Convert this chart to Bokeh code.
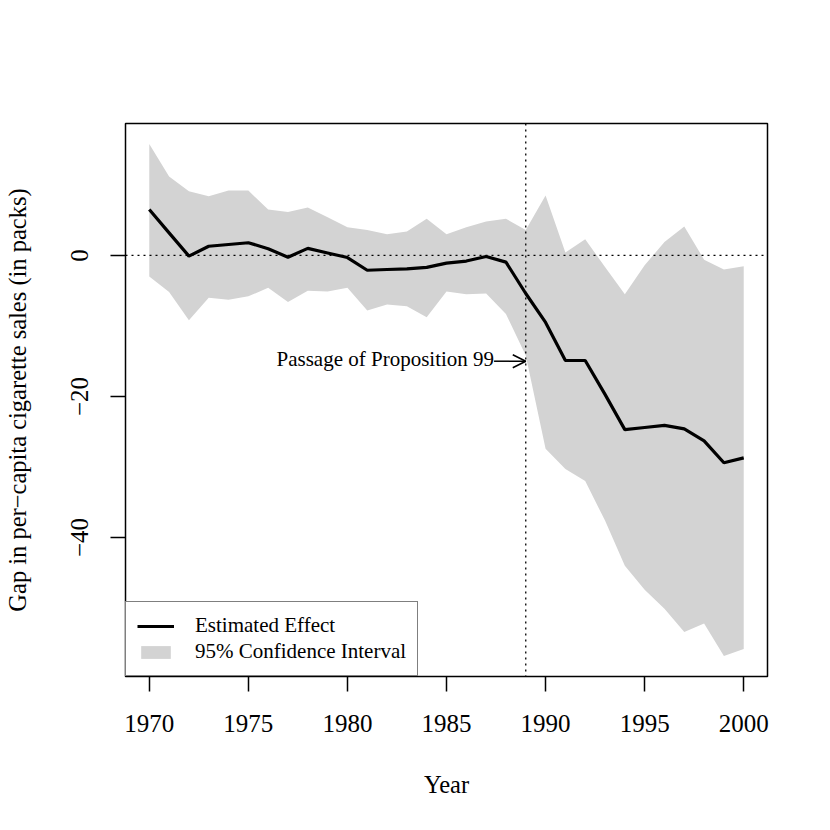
from bokeh.plotting import figure
from bokeh.models import (Range1d, FixedTicker, Span, Arrow, OpenHead, Label,
                          Legend, LegendItem)
from bokeh.embed import file_html
from bokeh.resources import INLINE

# ---- data ----
years = list(range(1970, 2001))
gap = [6.5, 3.2, -0.1, 1.3, 1.55, 1.8, 0.95, -0.25, 1.0, 0.35,
       -0.3, -2.1, -2.0, -1.9, -1.7, -1.1, -0.8, -0.15, -0.95, -5.4,
       -9.5, -14.9, -14.9, -19.7, -24.7, -24.4, -24.1, -24.6, -26.3, -29.4,
       -28.7]
ci_upper = [15.8, 11.2, 9.1, 8.4, 9.2, 9.2, 6.5, 6.15, 6.8, 5.4,
            4.0, 3.6, 3.0, 3.4, 5.2, 3.0, 4.0, 4.8, 5.2, 3.6,
            8.5, 0.4, 2.3, -1.65, -5.5, -1.4, 1.9, 4.1, -0.6, -2.0,
            -1.55]
ci_lower = [-3.0, -5.2, -9.2, -6.0, -6.3, -5.8, -4.6, -6.6, -5.0, -5.1,
            -4.6, -7.8, -6.95, -7.2, -8.75, -5.1, -5.5, -5.4, -8.3, -14.2,
            -27.4, -30.3, -32.0, -37.6, -44.0, -47.4, -50.1, -53.4, -52.2, -56.8,
            -55.8]
x_ticks = [1970, 1975, 1980, 1985, 1990, 1995, 2000]
y_ticks = [0, -20, -40]
y_tick_labels = ["0", "\u221220", "\u221240"]
treatment_year = 1989
arrow_x_start = 1987.4
arrow_y = -15
annotation_text = "Passage of Proposition 99"
legend_labels = ["Estimated Effect", "95% Confidence Interval"]
x_title = "Year"
y_title = "Gap in per\u2212capita cigarette sales (in packs)"

FONT = "Liberation Serif"

# R-style ranges: data range extended by 4% each side
xmin, xmax = min(years), max(years)
ymin, ymax = min(ci_lower), max(ci_upper)
dx = (xmax - xmin) * 0.04
dy = (ymax - ymin) * 0.04

p = figure(width=822, height=822, output_backend="svg", toolbar_location=None,
           x_range=Range1d(xmin - dx, xmax + dx),
           y_range=Range1d(ymin - dy, ymax + dy),
           min_border_left=123, min_border_top=123,
           min_border_right=55, min_border_bottom=146)
p.background_fill_color = "white"
p.border_fill_color = "white"
p.outline_line_color = "black"
p.outline_line_width = 1.5
p.grid.visible = False

band = p.varea(x=years, y1=ci_lower, y2=ci_upper, fill_color="#D3D3D3")
p.add_layout(Span(location=0, dimension="width", line_color="black",
                  line_width=1.3, line_dash="2 4"))
p.add_layout(Span(location=treatment_year, dimension="height", line_color="black",
                  line_width=1.3, line_dash="2 4"))
line = p.line(years, gap, line_color="black", line_width=3.2)

p.add_layout(Arrow(end=OpenHead(size=13, line_width=1.5, line_color="black"),
                   x_start=arrow_x_start, y_start=arrow_y,
                   x_end=treatment_year, y_end=arrow_y,
                   line_width=1.5, line_color="black"))
p.add_layout(Label(x=arrow_x_start, y=arrow_y, text=annotation_text,
                   text_align="right", text_baseline="middle",
                   text_font=FONT, text_font_size="21px", y_offset=2,
                   text_color="black"))

for ax in (p.xaxis[0], p.yaxis[0]):
    ax.axis_line_color = None
    ax.major_tick_line_color = "black"
    ax.major_tick_line_width = 1.5
    ax.major_tick_out = 15
    ax.major_tick_in = 0
    ax.minor_tick_line_color = None
    ax.major_label_text_font = FONT
    ax.major_label_text_font_size = "25px"
    ax.major_label_text_color = "black"
    ax.axis_label_text_font = FONT
    ax.axis_label_text_font_size = "24.5px"
    ax.axis_label_text_font_style = "normal"
    ax.axis_label_text_color = "black"

p.xaxis.ticker = FixedTicker(ticks=x_ticks)
p.yaxis.ticker = FixedTicker(ticks=y_ticks)
p.yaxis.major_label_overrides = {t: l for t, l in zip(y_ticks, y_tick_labels)}
p.yaxis.major_label_orientation = "vertical"
p.xaxis.axis_label = x_title
p.yaxis.axis_label = y_title
p.xaxis.major_label_standoff = 23
p.xaxis.axis_label_standoff = 36
p.yaxis.major_label_standoff = 22
p.yaxis.axis_label_standoff = 38

legend = Legend(items=[LegendItem(label=legend_labels[0], renderers=[line]),
                       LegendItem(label=legend_labels[1], renderers=[band])],
                location="bottom_left", margin=0, padding=11, spacing=1,
                glyph_width=37, glyph_height=16, label_height=16,
                label_standoff=21, label_text_font=FONT,
                label_text_font_size="21px", label_text_color="black",
                border_line_color="black",
                border_line_width=1.5, background_fill_alpha=1.0)
p.add_layout(legend)

open("out.html", "w").write(file_html(p, INLINE))
